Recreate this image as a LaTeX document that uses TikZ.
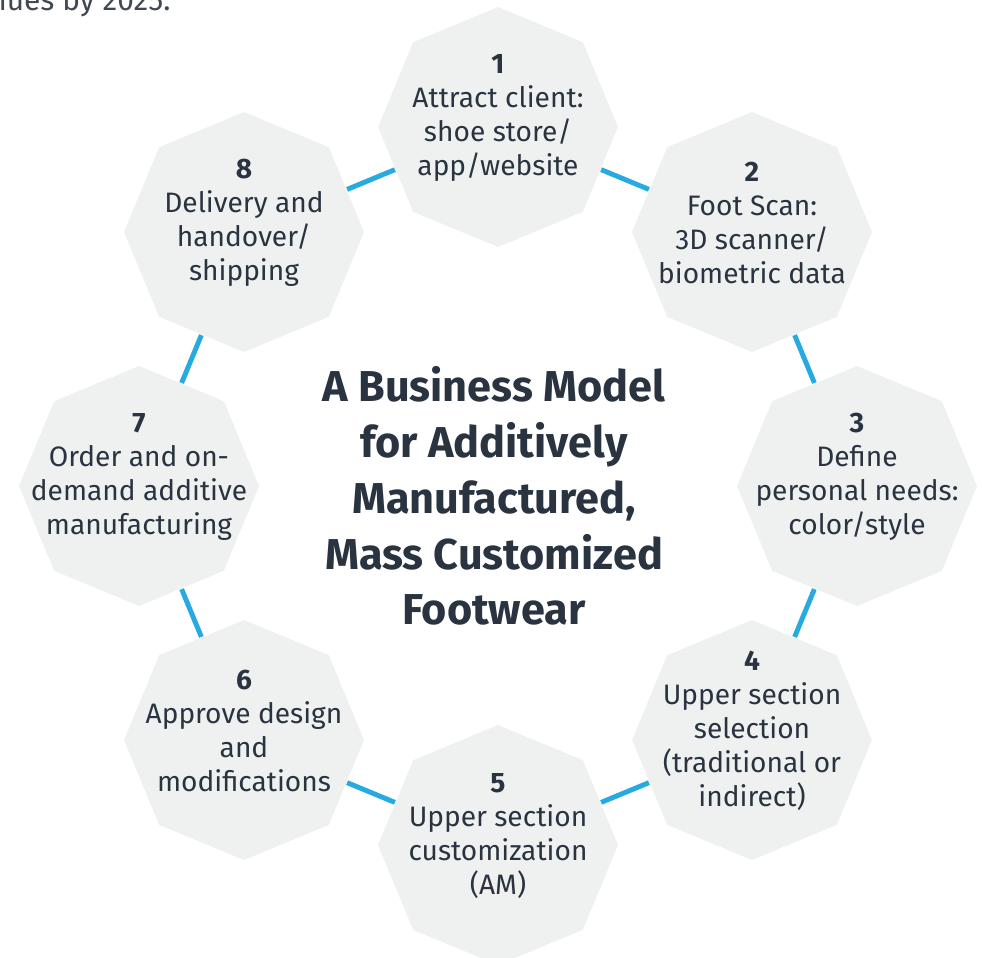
\documentclass[tikz,border=0pt]{standalone}
\usepackage{fontspec}
\setmainfont{Fira Sans}
\usetikzlibrary{shapes.geometric, positioning}
\definecolor{stepgray}{RGB}{239,241,241}
\definecolor{linkblue}{RGB}{39,170,225}
\definecolor{inkdark}{RGB}{42,52,64}

\begin{document}
\begin{tikzpicture}[
    stepbox/.style={regular polygon, regular polygon sides=8, shape border rotate=22.5,
                    fill=stepgray, draw=none, minimum size=2.4cm, inner sep=0pt},
    steptext/.style={align=center, text=inkdark, font=\fontsize{8}{9.7}\selectfont, yshift=0.09cm},
    title/.style={align=center, text=inkdark, font=\fontsize{12.3}{15.9}\selectfont\bfseries},
    link/.style={draw=linkblue, line width=1.4pt}
]
    \clip (0,0) rectangle (9.82,-9.57);

    % Tail of the paragraph above
    \node[anchor=base east, text=inkdark!90, font=\fontsize{8.5}{10}\selectfont] (intro) at (1.83,-0.10) {revenues by 2025.};

    % Octagons
    \node[stepbox] (s1) at (4.98,-1.27) {};
    \node[stepbox] (s2) at (7.52,-2.32) {};
    \node[stepbox] (s3) at (8.57,-4.86) {};
    \node[stepbox] (s4) at (7.52,-7.40) {};
    \node[stepbox] (s5) at (4.98,-8.45) {};
    \node[stepbox] (s6) at (2.44,-7.40) {};
    \node[stepbox] (s7) at (1.39,-4.86) {};
    \node[stepbox] (s8) at (2.44,-2.32) {};

    % Connectors
    \draw[link] (s1) -- (s2);
    \draw[link] (s2) -- (s3);
    \draw[link] (s3) -- (s4);
    \draw[link] (s4) -- (s5);
    \draw[link] (s5) -- (s6);
    \draw[link] (s6) -- (s7);
    \draw[link] (s7) -- (s8);
    \draw[link] (s8) -- (s1);

    % Step texts
    \node[steptext] (t1) at (s1) {\textbf{1}\\Attract client:\\shoe store/\\app/website};
    \node[steptext] (t2) at (s2) {\textbf{2}\\Foot Scan:\\3D scanner/\\biometric data};
    \node[steptext] (t3) at (s3) {\textbf{3}\\Define\\personal needs:\\color/style};
    \node[steptext] (t4) at (s4) {\textbf{4}\\Upper section\\selection\\(traditional or\\indirect)};
    \node[steptext] (t5) at (s5) {\textbf{5}\\Upper section\\customization\\(AM)};
    \node[steptext] (t6) at (s6) {\textbf{6}\\Approve design\\and\\modifications};
    \node[steptext] (t7) at (s7) {\textbf{7}\\Order and on-\\demand additive\\manufacturing};
    \node[steptext] (t8) at (s8) {\textbf{8}\\Delivery and\\handover/\\shipping};

    % Title
    \node[title] (title) at (4.94,-4.96) {A Business Model\\for Additively\\Manufactured,\\Mass Customized\\Footwear};
\end{tikzpicture}
\end{document}
